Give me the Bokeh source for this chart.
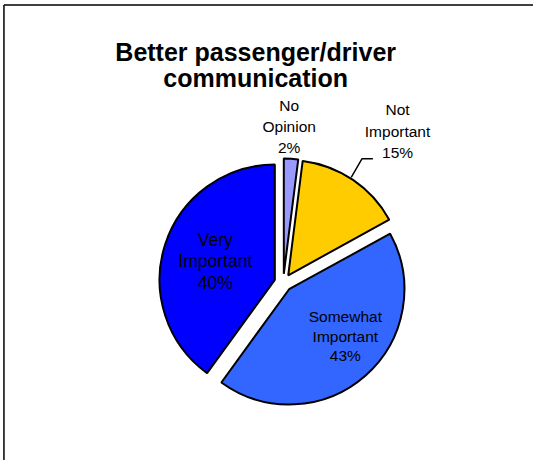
import math
from bokeh.plotting import figure
from bokeh.models import Range1d
from bokeh.core.properties import value
from bokeh.embed import file_html
from bokeh.resources import INLINE

# ---- data ----
title_lines = ["Better passenger/driver", "communication"]
categories = ["No Opinion", "Not Important", "Somewhat Important", "Very Important"]
values = [2, 15, 43, 40]
label_lines = [["No", "Opinion", "2%"],
               ["Not", "Important", "15%"],
               ["Somewhat", "Important", "43%"],
               ["Very", "Important", "40%"]]
colors = ["#9999FF", "#FFCC00", "#3366FF", "#0000FF"]

# ---- layout (reference pixel coordinates; y negated for plotting) ----
W, H = 533, 460
RW, RH = 541, 468
cx, cy = 287, 287          # pie centre
R = 117                    # radius
explode = 9                # explode offset
FONT = "Liberation Sans"
TXT_DY = -6                # text vertical correction
label_pos = [(293, 113), (403, 117), (350, 328), (218, 250)]  # centre x, first baseline
label_size = ["15.5px", "15.5px", "15.5px", "17.5px"]
label_step = [21.5, 22, 19.5, 21.5]

p = figure(width=W, height=H, output_backend="svg", toolbar_location=None,
           x_range=Range1d(0, RW), y_range=Range1d(-RH, 0),
           min_border=0, background_fill_color="white", border_fill_color="white")
p.axis.visible = False
p.grid.visible = False
p.outline_line_color = None

# frame (top and left edges visible, rest runs off page)
p.segment(x0=[3.5, 3.5], y0=[-4.5, -4.5], x1=[3.5, RW], y1=[-RH, -4.5],
          line_color="black", line_width=1.5)

total = sum(values)
start = 0.0
for i, v in enumerate(values):
    frac = v / total
    t1 = start * 360
    t2 = (start + frac) * 360
    mid = math.radians((t1 + t2) / 2)
    ox = cx + explode * math.sin(mid)
    oy = cy - explode * math.cos(mid)
    a_start = math.radians(90 - t2)
    a_end = math.radians(90 - t1)
    p.wedge(x=[ox], y=[-oy], radius=R, start_angle=[a_start], end_angle=[a_end],
            fill_color=colors[i], line_color="black", line_width=2)
    start += frac

# title
for j, t in enumerate(title_lines):
    p.text(x=[259], y=[-(58 + 27 * j + TXT_DY)], text=[t], text_align="center",
           text_baseline="alphabetic", text_font=value(FONT), text_font_size="25px",
           text_font_style="bold", text_color="black")

# labels
for i, lines in enumerate(label_lines):
    lx, ly = label_pos[i]
    for j, t in enumerate(lines):
        p.text(x=[lx], y=[-(ly + label_step[i] * j + TXT_DY)], text=[t], text_align="center",
               text_baseline="alphabetic", text_font=value(FONT),
               text_font_size=label_size[i], text_color="black")

# leader line for "Not Important"
p.line(x=[356, 367, 378], y=[-180, -161, -161], line_color="black", line_width=1.5)

open("out.html", "w").write(file_html(p, INLINE))
